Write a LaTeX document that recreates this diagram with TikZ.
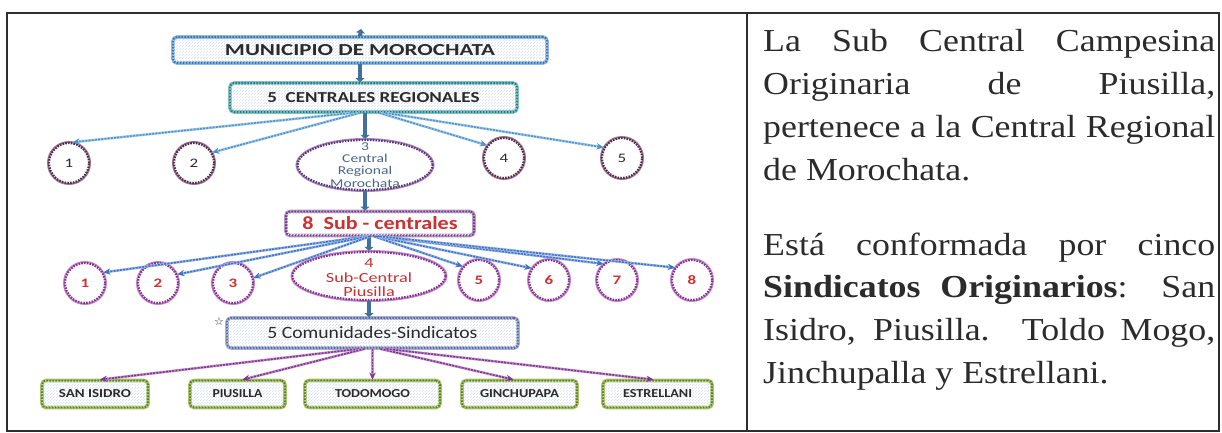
\documentclass[tikz,border=0pt]{standalone}
\usepackage{fontspec}
\usepackage{graphicx}
\usetikzlibrary{shapes.geometric,arrows.meta,patterns}
\newfontfamily\dg{Carlito}
\newfontfamily\dgw[FakeStretch=1.3]{Carlito}
\newfontfamily\bodyfont[FakeStretch=1.12]{Liberation Serif}
\newfontfamily\symf{DejaVu Sans}
\newcommand{\rb}[3]{\resizebox{#1pt}{#2pt}{#3}}
\definecolor{frm}{HTML}{2E2E2E}
\definecolor{txt}{HTML}{2B2B2B}
\definecolor{muniD}{HTML}{3F6FA8}
\definecolor{muniL}{HTML}{8DBBE6}
\definecolor{centD}{HTML}{2F7A86}
\definecolor{centL}{HTML}{7FC2C4}
\definecolor{hatch}{HTML}{D3DEEC}
\definecolor{rowaD}{HTML}{4E2A45}
\definecolor{rowaL}{HTML}{A0789A}
\definecolor{ellD}{HTML}{5E3478}
\definecolor{ellL}{HTML}{A98AC0}
\definecolor{ellT}{HTML}{4A6688}
\definecolor{arrA}{HTML}{4E93C8}
\definecolor{arrAL}{HTML}{A8CDEA}
\definecolor{subD}{HTML}{6E3E80}
\definecolor{subL}{HTML}{B596C4}
\definecolor{redT}{HTML}{CC3030}
\definecolor{rowbD}{HTML}{83318F}
\definecolor{rowbL}{HTML}{C48ACB}
\definecolor{arrB}{HTML}{3E72C4}
\definecolor{arrBL}{HTML}{9DB9E6}
\definecolor{comD}{HTML}{5D6B9C}
\definecolor{comL}{HTML}{A7B1D6}
\definecolor{arrC}{HTML}{7E338C}
\definecolor{arrCL}{HTML}{C595CC}
\definecolor{botD}{HTML}{5F7F22}
\definecolor{botL}{HTML}{A9C46A}
\definecolor{barc}{HTML}{41709E}
\tikzset{
  bx/.style 2 args={rectangle, rounded corners=4pt, inner sep=0pt,
    preaction={draw=#2, line width=3.6pt, solid},
    draw=#1, line width=1.8pt, dash pattern=on 1.6pt off 1.4pt,
    pattern=north east lines, pattern color=hatch},
  cir/.style 2 args={circle, minimum size=40pt, inner sep=0pt, fill=white,
    preaction={draw=#2, line width=4pt, solid},
    draw=#1, line width=2.2pt, dash pattern=on 1.6pt off 1.2pt},
  ell/.style 2 args={ellipse, inner sep=0pt, fill=white,
    preaction={draw=#2, line width=4pt, solid},
    draw=#1, line width=2.2pt, dash pattern=on 1.6pt off 1.2pt},
  ar/.style 2 args={preaction={draw=#2, line width=2.6pt, solid},
    draw=#1, line width=1.5pt, dash pattern=on 2pt off 1.2pt,
    -{Stealth[length=7pt,width=6pt]}},
  bar/.style={draw=barc, line width=4pt, -{Triangle[length=4pt,width=9pt]}},
  frame/.style={draw=frm, line width=2.4pt},
}
\begin{document}
\begin{tikzpicture}[x=1pt,y=-1pt]
\useasboundingbox (0,0) rectangle (1222,433);
% outer table
\draw[frame] (7,13) rectangle (1219,431);
\draw[frame] (747,13) -- (747,431);

% boxes
\node[bx={muniD}{muniL}, minimum width=374pt, minimum height=26pt, text=txt] (muni) at (360,50)
  {\rb{270}{11}{\dg\bfseries MUNICIPIO DE MOROCHATA}};
\coordinate (topc) at (361,29);
\node[bx={centD}{centL}, minimum width=287pt, minimum height=29pt, text=txt] (cent) at (373.5,97.5)
  {\rb{212}{10}{\dg\bfseries 5\ \ CENTRALES REGIONALES}};

% row 1
\node[cir={rowaD}{rowaL}, font=\dgw\fontsize{13}{13}\selectfont, text=txt] (r1) at (69,163) {1};
\node[cir={rowaD}{rowaL}, font=\dgw\fontsize{13}{13}\selectfont, text=txt] (r2) at (194,163) {2};
\node[ell={ellD}{ellL}, minimum width=135pt, minimum height=50pt] (e3) at (365,165) {};
\node[font=\dgw\fontsize{12}{12.2}\selectfont, text=ellT, align=center, inner sep=0pt] (e3t) at (365,165)
  {3\\Central\\Regional\\Morochata};
\node[cir={rowaD}{rowaL}, font=\dgw\fontsize{13}{13}\selectfont, text=txt] (r4) at (504,158) {4};
\node[cir={rowaD}{rowaL}, font=\dgw\fontsize{13}{13}\selectfont, text=txt] (r5) at (622,158) {5};

\node[bx={subD}{subL}, minimum width=188pt, minimum height=24pt, text=redT, pattern color=white] (sub) at (380,223.5)
  {\rb{155}{13}{\dg\bfseries 8\ \ Sub - centrales}};

% row 2
\node[cir={rowbD}{rowbL}, font=\dgw\bfseries\fontsize{13}{13}\selectfont, text=redT] (s1) at (85,283) {1};
\node[cir={rowbD}{rowbL}, font=\dgw\bfseries\fontsize{13}{13}\selectfont, text=redT] (s2) at (158,283) {2};
\node[cir={rowbD}{rowbL}, font=\dgw\bfseries\fontsize{13}{13}\selectfont, text=redT] (s3) at (233,283) {3};
\node[ell={rowbD}{rowbL}, minimum width=153pt, minimum height=48pt] (e4) at (369,276) {};
\node[font=\dgw\fontsize{14}{14.5}\selectfont, text=redT, align=center, inner sep=0pt] (e4t) at (369,278)
  {4\\Sub-Central\\Piusilla};
\node[cir={rowbD}{rowbL}, font=\dgw\bfseries\fontsize{13}{13}\selectfont, text=redT] (s5) at (479,280) {5};
\node[cir={rowbD}{rowbL}, font=\dgw\bfseries\fontsize{13}{13}\selectfont, text=redT] (s6) at (549,280) {6};
\node[cir={rowbD}{rowbL}, font=\dgw\bfseries\fontsize{13}{13}\selectfont, text=redT] (s7) at (617,280) {7};
\node[cir={rowbD}{rowbL}, font=\dgw\bfseries\fontsize{13}{13}\selectfont, text=redT] (s8) at (692,280) {8};

\node[bx={comD}{comL}, minimum width=291pt, minimum height=30pt, text=txt] (com) at (372.5,333)
  {\rb{210}{12}{\dg 5\ Comunidades-Sindicatos}};
\node[font=\symf\fontsize{11}{11}\selectfont, text=txt, inner sep=0pt] (star) at (219,322) {☆};

% bottom
\node[bx={botD}{botL}, minimum width=106pt, minimum height=27pt, text=txt] (b1) at (95,394)
  {\rb{72}{8}{\dg\bfseries SAN ISIDRO}};
\node[bx={botD}{botL}, minimum width=95pt, minimum height=27pt, text=txt] (b2) at (237.5,394)
  {\rb{50}{8}{\dg\bfseries PIUSILLA}};
\node[bx={botD}{botL}, minimum width=135pt, minimum height=27pt, text=txt] (b3) at (372.5,394)
  {\rb{75}{8}{\dg\bfseries TODOMOGO}};
\node[bx={botD}{botL}, minimum width=115pt, minimum height=27pt, text=txt] (b4) at (519.5,394)
  {\rb{79}{8}{\dg\bfseries GINCHUPAPA}};
\node[bx={botD}{botL}, minimum width=109pt, minimum height=27pt, text=txt] (b5) at (657.5,394)
  {\rb{69}{8}{\dg\bfseries ESTRELLANI}};

% vertical bars
\draw[bar] (muni.north) -- (topc);
\draw[bar] (muni.south) -- (muni.south |- cent.north);
\draw[bar] (e3.north |- cent.south) -- (e3.north);
\draw[bar] (e3.south) -- (e3.south |- sub.north);
\draw[bar] (e4.north |- sub.south) -- (e4.north);
\draw[bar] (e4.south) -- (e4.south |- com.north);

% row 1 arrows
\draw[ar={arrA}{arrAL}] ([xshift=-22pt]cent.south) -- (r1.80);
\draw[ar={arrA}{arrAL}] ([xshift=-14pt]cent.south) -- (r2.30);
\draw[ar={arrA}{arrAL}] ([xshift=6pt]cent.south) -- (r4.143);
\draw[ar={arrA}{arrAL}] ([xshift=12pt]cent.south) -- (r5.150);

% row 2 arrows
\draw[ar={arrB}{arrBL}] ([xshift=-14pt]sub.south) -- (s1.30);
\draw[ar={arrB}{arrBL}] ([xshift=-12pt]sub.south) -- (s2.24);
\draw[ar={arrB}{arrBL}] ([xshift=-10pt]sub.south) -- (s3.14);
\draw[ar={arrB}{arrBL}] ([xshift=-6pt]sub.south) -- (s5.140);
\draw[ar={arrB}{arrBL}] ([xshift=-4pt]sub.south) -- (s6.146);
\draw[ar={arrB}{arrBL}] ([xshift=-2pt]sub.south) -- (s7.130);
\draw[ar={arrB}{arrBL}] ([xshift=0pt]sub.south) -- (s8.144);

% bottom arrows
\draw[ar={arrC}{arrCL}] ([xshift=-14pt]com.south) -- ([xshift=5pt]b1.north);
\draw[ar={arrC}{arrCL}] ([xshift=-8pt]com.south) -- ([xshift=5pt]b2.north);
\draw[ar={arrC}{arrCL}] (b3.north |- com.south) -- (b3.north);
\draw[ar={arrC}{arrCL}] ([xshift=8pt]com.south) -- ([xshift=-6pt]b4.north);
\draw[ar={arrC}{arrCL}] ([xshift=14pt]com.south) -- ([xshift=-4pt]b5.north);

% right text
\node[anchor=base west, inner sep=0pt, text=txt] (p1) at (763,52)
  {\parbox[t]{452pt}{\bodyfont\fontsize{32}{42.7}\selectfont\tolerance=10000\hyphenpenalty=10000\hbadness=10000
  La Sub Central Campesina\linebreak Originaria de Piusilla,\linebreak pertenece a la Central Regional\linebreak de Morochata.}};
\node[anchor=base west, inner sep=0pt, text=txt] (p2) at (763,255)
  {\parbox[t]{452pt}{\bodyfont\fontsize{32}{42.7}\selectfont\tolerance=10000\hyphenpenalty=10000\hbadness=10000
  Está conformada por cinco\linebreak \textbf{Sindicatos Originarios}: San\linebreak Isidro, Piusilla. Toldo Mogo,\linebreak Jinchupalla y Estrellani.}};
\end{tikzpicture}
\end{document}
